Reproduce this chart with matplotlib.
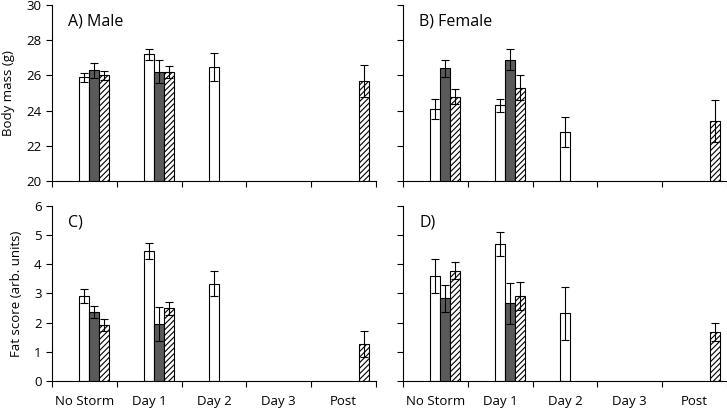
import matplotlib.pyplot as plt
import numpy as np

plt.rcParams['font.family'] = ['Open Sans', 'DejaVu Sans']
plt.rcParams['hatch.linewidth'] = 0.8

categories = ['No Storm', 'Day 1', 'Day 2', 'Day 3', 'Post']

# series: white, dark grey, hatched  (np.nan = no bar)
male_mass = {
    'white': [25.9, 27.2, 26.5, np.nan, np.nan],
    'dark': [26.3, 26.2, np.nan, np.nan, np.nan],
    'hatch': [26.0, 26.2, np.nan, np.nan, 25.7],
}
male_mass_err = {
    'white': [0.25, 0.3, 0.8, np.nan, np.nan],
    'dark': [0.43, 0.65, np.nan, np.nan, np.nan],
    'hatch': [0.25, 0.36, np.nan, np.nan, 0.9],
}
female_mass = {
    'white': [24.1, 24.3, 22.8, np.nan, np.nan],
    'dark': [26.4, 26.9, np.nan, np.nan, np.nan],
    'hatch': [24.8, 25.3, np.nan, np.nan, 23.4],
}
female_mass_err = {
    'white': [0.57, 0.36, 0.86, np.nan, np.nan],
    'dark': [0.5, 0.58, np.nan, np.nan, np.nan],
    'hatch': [0.43, 0.7, np.nan, np.nan, 1.2],
}
male_fat = {
    'white': [2.91, 4.46, 3.34, np.nan, np.nan],
    'dark': [2.37, 1.95, np.nan, np.nan, np.nan],
    'hatch': [1.91, 2.49, np.nan, np.nan, 1.27],
}
male_fat_err = {
    'white': [0.23, 0.26, 0.43, np.nan, np.nan],
    'dark': [0.2, 0.57, np.nan, np.nan, np.nan],
    'hatch': [0.2, 0.22, np.nan, np.nan, 0.45],
}
female_fat = {
    'white': [3.6, 4.69, 2.32, np.nan, np.nan],
    'dark': [2.83, 2.66, np.nan, np.nan, np.nan],
    'hatch': [3.78, 2.91, np.nan, np.nan, 1.68],
}
female_fat_err = {
    'white': [0.6, 0.41, 0.9, np.nan, np.nan],
    'dark': [0.46, 0.69, np.nan, np.nan, np.nan],
    'hatch': [0.29, 0.48, np.nan, np.nan, 0.3],
}

styles = {
    'white': dict(color='white'),
    'dark': dict(color='#5a5a5a'),
    'hatch': dict(color='white', hatch='//////'),
}
offsets = {'white': 0.0, 'dark': 0.155, 'hatch': 0.31}
bar_w = 0.155


def draw_panel(ax, vals, errs, ylim, yticks, label, bottom):
    x = np.arange(len(categories)) + 0.5
    for key in ['white', 'dark', 'hatch']:
        v = np.array(vals[key], dtype=float)
        e = np.array(errs[key], dtype=float)
        m = ~np.isnan(v)
        base = ylim[0]
        ax.bar(x[m] + offsets[key], v[m] - base, bottom=base, width=bar_w,
               edgecolor='black', linewidth=0.8, zorder=2, **styles[key])
        ax.errorbar(x[m] + offsets[key], v[m], yerr=e[m], fmt='none',
                    ecolor='black', elinewidth=0.8, capsize=3, capthick=0.8,
                    zorder=3)
    ax.set_xlim(0, 5)
    ax.set_ylim(*ylim)
    ax.set_yticks(yticks)
    ax.set_xticks(np.arange(0, 6))
    ax.set_xticklabels([])
    ax.set_xticks(x, minor=True)
    if bottom:
        ax.set_xticklabels(categories, minor=True)
    ax.tick_params(axis='x', which='minor', length=0, labelsize=9.5, pad=10)
    ax.tick_params(axis='both', which='major', direction='out', length=4,
                   width=0.8, labelsize=9.5)
    for s in ['top', 'right']:
        ax.spines[s].set_visible(False)
    for s in ['left', 'bottom']:
        ax.spines[s].set_linewidth(0.8)
    ax.text(0.05, 0.905, label, transform=ax.transAxes, fontsize=11.5,
            va='center', ha='left')


fig = plt.figure(figsize=(7.27, 4.13), dpi=100)
axA = fig.add_axes([0.0715, 0.5617, 0.4457, 0.4262])
axB = fig.add_axes([0.5543, 0.5617, 0.4457, 0.4262])
axC = fig.add_axes([0.0715, 0.0775, 0.4457, 0.4237])
axD = fig.add_axes([0.5543, 0.0775, 0.4457, 0.4237])

draw_panel(axA, male_mass, male_mass_err, (20, 30), range(20, 31, 2), 'A) Male', False)
draw_panel(axB, female_mass, female_mass_err, (20, 30), range(20, 31, 2), 'B) Female', False)
draw_panel(axC, male_fat, male_fat_err, (0, 6), range(0, 7), 'C)', True)
draw_panel(axD, female_fat, female_fat_err, (0, 6), range(0, 7), 'D)', True)
axB.set_yticklabels([])
axD.set_yticklabels([])
axA.set_ylabel('Body mass (g)', fontsize=9.5, labelpad=8)
axC.set_ylabel('Fat score (arb. units)', fontsize=9.5, labelpad=8)

fig.savefig('out.png', dpi=100)
